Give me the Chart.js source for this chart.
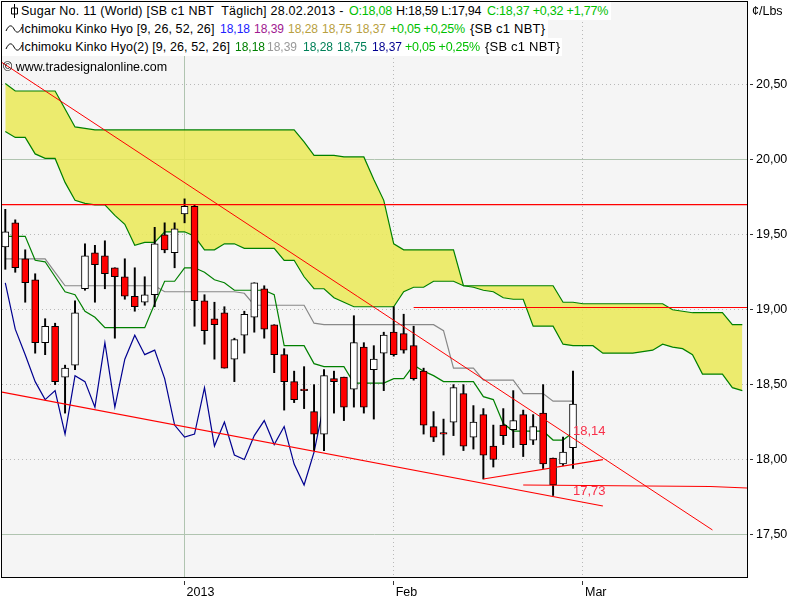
<!DOCTYPE html>
<html>
<head>
<meta charset="utf-8">
<script src="https://cdn.jsdelivr.net/npm/chart.js@4/dist/chart.umd.min.js"></script>
<style>
html,body{margin:0;padding:0;background:#fff;}
#wrap{position:relative;width:800px;height:600px;overflow:hidden;font-family:"Liberation Sans",Arial,sans-serif;font-size:12.5px;color:#000;}
canvas{position:absolute;left:0;top:0;}
.row{position:absolute;left:2px;height:18px;line-height:18px;background:#fff;}
.row span{position:absolute;top:0;white-space:pre;}
.wm{position:absolute;left:3px;top:59px;line-height:16px;white-space:pre;}
.unit{position:absolute;left:752px;top:2px;line-height:18px;}
.ic{position:absolute;left:3px;top:2px;}
.n5{font-size:12px}
.pc{letter-spacing:-.25px}
.sb{font-size:13px;letter-spacing:.2px}
.g{color:#00c000}.b{color:#2020ff}.p{color:#a01890}.t{color:#b8a040}.dg{color:#008000}.gr{color:#999}.tg{color:#008058}.n{color:#000090}
</style>
</head>
<body>
<div id="wrap">
<canvas id="c" width="800" height="600"></canvas>
<div class="row" style="top:2px;width:609px"><svg class="ic" width="16" height="14"><path d="M9.5 0V14M6.5 4H12.5V10H6.5Z" stroke="#000" fill="#fff"/></svg>
<span style="left:19px;letter-spacing:.24px">Sugar No. 11 (World) [SB c1 NBT  Täglich] 28.02.2013 -</span><span class="g" style="left:347px;letter-spacing:-.2px">O:18,08</span><span style="left:394px;letter-spacing:-.25px">H:18,59 L:17,94</span><span class="g" style="left:485px;letter-spacing:-.2px">C:18,37 +0,32 +1,77%</span></div>
<div class="row" style="top:20px;width:546px"><svg class="ic" width="18" height="14"><path d="M1 9C4 2 7 3 9 7S14 12 17 5" stroke="#000" fill="none"/></svg>
<span style="left:19px;letter-spacing:.09px">Ichimoku Kinko Hyo [9, 26, 52, 26]</span><span class="b n5" style="left:218px">18,18</span><span class="p n5" style="left:252px">18,39</span><span class="t n5" style="left:286px">18,28</span><span class="t n5" style="left:320px">18,75</span><span class="t n5" style="left:354px">18,37</span><span class="g pc" style="left:388px">+0,05 +0,25%</span><span class="sb" style="left:468px">{SB c1 NBT}</span></div>
<div class="row" style="top:38px;width:560px"><svg class="ic" width="18" height="14"><path d="M1 9C4 2 7 3 9 7S14 12 17 5" stroke="#000" fill="none"/></svg>
<span style="left:19px;letter-spacing:.09px">Ichimoku Kinko Hyo(2) [9, 26, 52, 26]</span><span class="dg n5" style="left:233px">18,18</span><span class="gr n5" style="left:265px">18,39</span><span class="tg n5" style="left:301px">18,28</span><span class="tg n5" style="left:335px">18,75</span><span class="n n5" style="left:370px">18,37</span><span class="g pc" style="left:403px">+0,05 +0,25%</span><span class="sb" style="left:483px">{SB c1 NBT}</span></div>
<div class="wm">© www.tradesignalonline.com</div>
<div class="unit">¢/Lbs</div>
</div>
<script>
const opens=[19.42,19.58,19.34,19.20,18.78,18.89,18.55,18.63,19.14,19.38,19.36,19.28,19.22,19.09,19.05,19.10,19.50,19.38,19.64,19.69,19.06,18.94,18.98,18.67,18.83,18.95,19.14,18.90,18.70,18.52,18.47,18.32,18.17,18.54,18.55,18.47,18.75,18.60,18.71,18.85,18.84,18.76,18.59,18.22,18.18,18.25,18.44,18.15,18.30,18.09,18.23,18.20,18.30,18.13,18.31,18.01,17.97,18.08];
const closes=[19.52,19.28,19.18,18.78,18.89,18.52,18.61,18.98,19.36,19.30,19.24,19.22,19.09,19.02,19.10,19.44,19.40,19.54,19.69,19.06,18.86,18.90,18.61,18.80,18.97,19.18,18.87,18.70,18.52,18.40,18.46,18.17,18.56,18.52,18.35,18.78,18.35,18.67,18.83,18.70,18.73,18.54,18.23,18.15,18.17,18.48,18.09,18.25,18.03,18.00,18.16,18.26,18.10,18.22,17.97,17.83,18.05,18.37];
const highs=[19.67,19.60,19.40,19.24,18.94,18.91,18.63,19.06,19.44,19.43,19.46,19.28,19.34,19.28,19.22,19.55,19.58,19.58,19.74,19.70,19.10,19.05,19.02,18.81,18.99,19.18,19.16,18.90,18.74,18.59,18.62,18.50,18.60,18.59,18.55,18.96,18.78,18.76,18.85,19.02,18.97,18.89,18.61,18.32,18.27,18.50,18.50,18.36,18.34,18.23,18.34,18.46,18.33,18.30,18.50,18.01,18.15,18.59];
const lows=[19.27,19.25,19.05,18.71,18.70,18.50,18.31,18.60,19.13,19.05,19.14,18.81,19.07,18.99,19.03,19.02,19.38,19.28,19.58,18.89,18.77,18.67,18.61,18.52,18.71,18.85,18.81,18.58,18.33,18.38,18.34,18.06,18.06,18.31,18.26,18.35,18.31,18.27,18.46,18.69,18.71,18.53,18.17,18.12,18.03,18.16,18.06,18.07,17.87,17.95,18.10,18.08,18.02,18.10,17.94,17.76,17.96,17.94];
const spanA=[20.51,20.46,20.46,20.46,20.46,20.46,20.34,20.22,20.21,20.20,20.20,20.20,20.20,20.20,20.20,20.20,20.20,20.20,20.20,20.20,20.20,20.20,20.20,20.20,20.20,20.20,20.20,20.20,20.20,20.20,20.12,20.03,20.03,20.03,20.02,20.02,20.02,19.87,19.73,19.44,19.40,19.40,19.40,19.40,19.40,19.40,19.16,19.16,19.16,19.16,19.16,19.16,19.16,19.16,19.16,19.16,19.05,19.05,19.04,19.04,19.04,19.04,19.04,19.04,19.04,19.04,19.04,19.00,18.99,18.98,18.98,18.98,18.98,18.90,18.90];
const spanB=[20.19,20.15,20.15,20.04,20.01,20.01,19.85,19.73,19.71,19.70,19.70,19.63,19.57,19.43,19.45,19.45,19.52,19.52,19.52,19.49,19.40,19.40,19.44,19.44,19.41,19.41,19.41,19.41,19.33,19.33,19.22,19.14,19.14,19.08,19.05,19.02,19.02,19.02,19.02,19.02,19.12,19.15,19.15,19.19,19.19,19.19,19.16,19.15,19.13,19.12,19.08,19.07,19.07,18.89,18.89,18.89,18.77,18.76,18.76,18.76,18.71,18.71,18.71,18.71,18.72,18.73,18.77,18.75,18.74,18.70,18.57,18.57,18.57,18.48,18.46];
const tenkan=[19.49,19.49,19.49,19.33,19.32,19.22,19.12,19.10,18.99,18.95,18.88,18.88,18.88,18.88,18.88,19.04,19.19,19.19,19.28,19.28,19.25,19.20,19.18,19.13,19.13,19.13,19.13,19.10,18.76,18.76,18.76,18.64,18.62,18.62,18.62,18.51,18.51,18.51,18.51,18.54,18.54,18.63,18.59,18.56,18.52,18.52,18.52,18.52,18.42,18.40,18.24,18.19,18.19,18.19,18.19,18.13,18.13,18.18];
const kijun=[19.34,19.34,19.34,19.34,19.34,19.25,19.16,19.16,19.16,19.16,19.16,19.16,19.16,19.16,19.16,19.16,19.12,19.12,19.12,19.12,19.12,19.12,19.12,19.12,19.11,19.03,19.03,19.03,19.03,19.03,19.03,18.91,18.90,18.90,18.90,18.90,18.90,18.90,18.90,18.90,18.90,18.90,18.90,18.90,18.86,18.61,18.61,18.61,18.53,18.53,18.53,18.53,18.44,18.44,18.44,18.39,18.39,18.39];
const chikou=[19.18,18.87,18.70,18.52,18.40,18.46,18.17,18.56,18.52,18.35,18.78,18.35,18.67,18.83,18.70,18.73,18.54,18.23,18.15,18.17,18.48,18.09,18.25,18.03,18.00,18.16,18.26,18.10,18.22,17.97,17.83,18.05,18.37];
const trendDown=[[-0.33,20.65],[71.0,17.53]];
const trendLow=[[-0.33,18.45],[60,17.69]];
const trendUp=[[48,17.87],[60,18.00]];
const levelLow=[[52,17.83],[70.8,17.82],[74.47,17.81]];
const levelHigh=[[41,19.015],[74.47,19.015]];
const levelTop=[[-0.33,19.702],[74.47,19.702]];
const noteTexts=['18,14','17,73'];
const noteXs=[57,57];
const notePrices=[18.19,17.79];
const yTicks=[17.5,18,18.5,19,19.5,20,20.5];
const solidY=[17.5,20];
const xTicks=[18,39,58];
const xTickLabels=['2013','Feb','Mar'];
const solidX=[18];

const pts=a=>a.map((v,i)=>({x:i,y:v}));
const seg=a=>a.map(p=>({x:p[0],y:p[1]}));
const lineDs=(label,data,color,w,order,extra)=>Object.assign({type:'line',label,data,borderColor:color,borderWidth:w,pointRadius:0,tension:0,fill:false,order},extra||{});
const isUp=i=>closes[i]>=opens[i];
const noPad=s=>{s.paddingTop=0;s.paddingBottom=0;s.paddingLeft=0;s.paddingRight=0;};

const bg={id:'bg',beforeDraw(c){const a=c.chartArea,x=c.ctx;x.save();x.fillStyle='#f5f5f5';x.fillRect(a.left,a.top,a.right-a.left,a.bottom-a.top);x.restore();},
afterDraw(c){const a=c.chartArea,x=c.ctx;x.save();
 x.fillStyle='#fff';x.fillRect(0,a.bottom+1,a.right+1,3);x.fillRect(a.right+1,0,2,a.bottom+2);
 x.strokeStyle='#000';x.lineWidth=1;x.strokeRect(1.5,1.5,746,576);
 x.fillStyle='#f8304a';x.font='13px "Liberation Sans"';x.textBaseline='middle';
 noteTexts.forEach((t,i)=>x.fillText(t,c.scales.x.getPixelForValue(noteXs[i]),c.scales.y.getPixelForValue(notePrices[i])));
 x.restore();}};

new Chart(document.getElementById('c'),{
 type:'bar',
 plugins:[bg],
 data:{datasets:[
  lineDs('Span A',pts(spanA),'#008000',1.2,60,{fill:'+1',backgroundColor:'rgba(234,233,86,.85)'}),
  lineDs('Span B',pts(spanB),'#008000',1.2,59),
  lineDs('Tenkan',pts(tenkan),'#008000',1.2,50),
  lineDs('Kijun',pts(kijun),'#888888',1.2,51),
  lineDs('Chikou',pts(chikou),'#000090',1.2,49),
  {type:'bar',label:'Wick',data:highs.map((h,i)=>({x:i,y:[lows[i],h]})),backgroundColor:'#000',barThickness:1.3,grouped:false,order:20},
  {type:'bar',label:'Body',data:opens.map((o,i)=>({x:i,y:[o,closes[i]]})),backgroundColor:c=>isUp(c.dataIndex)?'#fff':'#ff0000',borderColor:'#000',borderWidth:1,borderSkipped:false,barThickness:7,grouped:false,order:19},
  lineDs('Trend down',seg(trendDown),'#ff0000',1,5),
  lineDs('Trend low',seg(trendLow),'#ff0000',1.2,5),
  lineDs('Trend up',seg(trendUp),'#ff0000',1.2,5),
  lineDs('Level low',seg(levelLow),'#ff0000',1.2,5),
  lineDs('Level high',seg(levelHigh),'#ff0000',1.2,5),
  lineDs('Level top',seg(levelTop),'#ff0000',1.2,5)
 ]},
 options:{
  responsive:false,animation:false,devicePixelRatio:1,
  layout:{padding:{left:2,top:2,right:0,bottom:0}},
  plugins:{legend:{display:false},tooltip:{enabled:false}},
  scales:{
   x:{type:'linear',offset:false,min:-0.331,max:74.47,
    afterFit(s){s.height=23;noPad(s);},
    afterBuildTicks(s){s.ticks=xTicks.map(v=>({value:v}));},
    grid:{offset:false,color:c=>solidX.includes(c.tick&&c.tick.value)?'#b0c4b0':'#b8b8b8',tickColor:'#333',tickLength:8,lineWidth:1,drawTicks:true},
    border:{display:false,dash:c=>solidX.includes(c.tick&&c.tick.value)?[]:[1,3]},
    ticks:{autoSkip:false,maxRotation:0,align:'start',labelOffset:2,padding:0,color:'#000',font:{family:'"Liberation Sans"',size:12.5},
     callback:v=>xTickLabels[xTicks.indexOf(v)]}
   },
   y:{type:'linear',position:'right',min:17.216,max:21.054,
    afterFit(s){s.width=53;noPad(s);},
    afterBuildTicks(s){s.ticks=yTicks.map(v=>({value:v}));},
    grid:{color:c=>solidY.includes(c.tick&&c.tick.value)?'#b0c4b0':'#b8b8b8',tickColor:'#333',tickLength:6,lineWidth:1},
    border:{display:false,dash:c=>solidY.includes(c.tick&&c.tick.value)?[]:[1,3]},
    ticks:{padding:3,color:'#000',font:{family:'"Liberation Sans"',size:12.5},callback:v=>v.toFixed(2).replace('.',',')}
   }
  }
 }
});
</script>
</body>
</html>
